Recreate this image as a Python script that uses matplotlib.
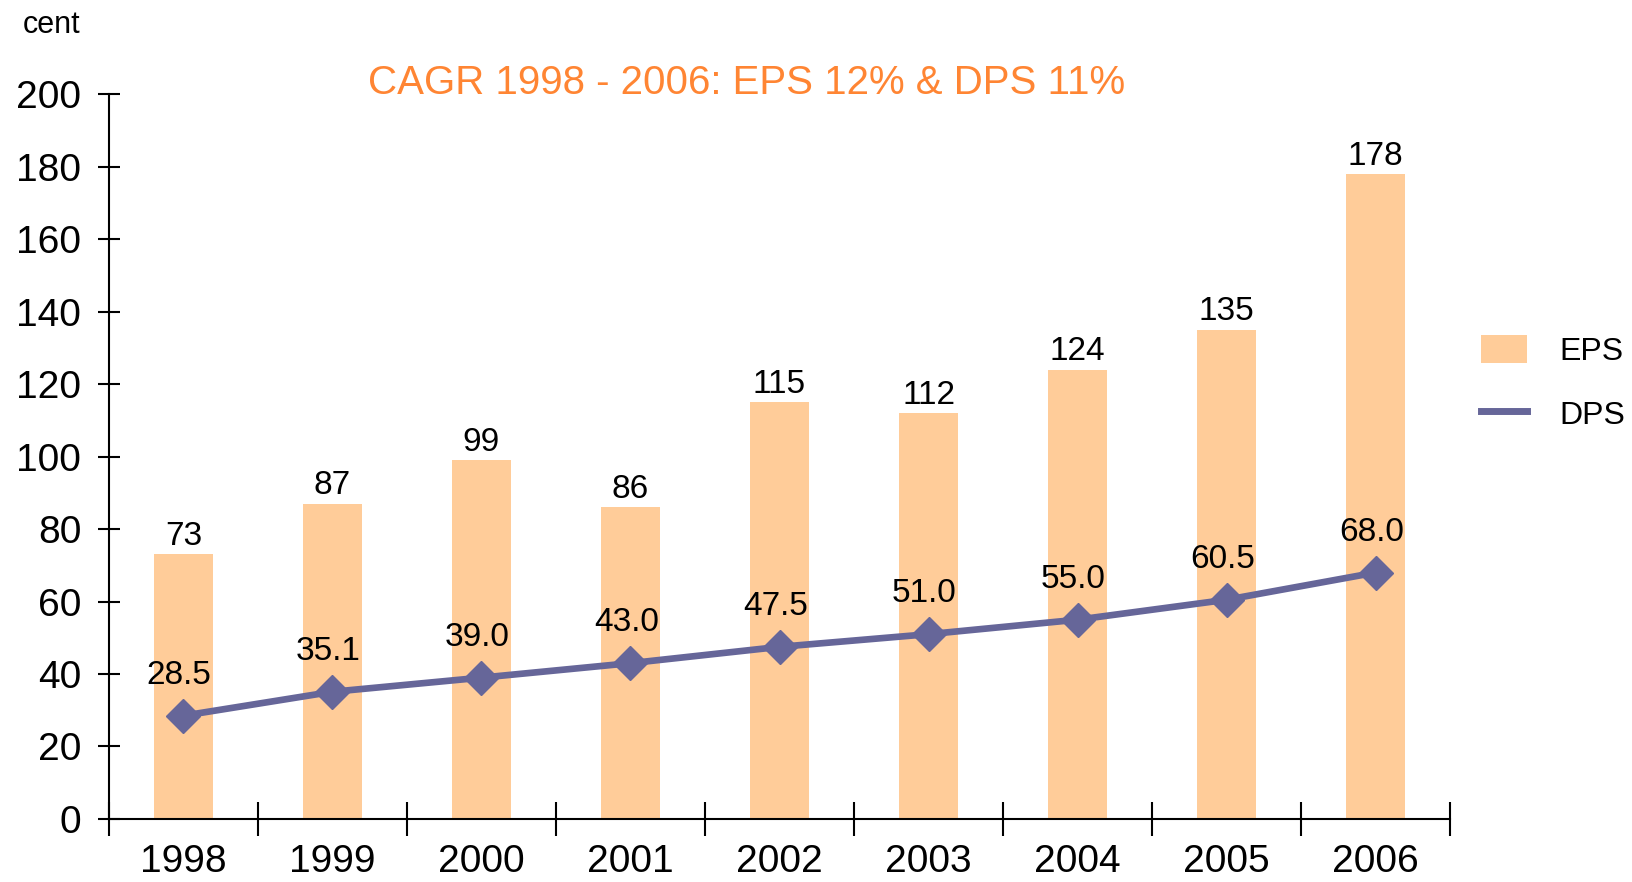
import matplotlib
matplotlib.use("Agg")
import matplotlib.pyplot as plt
from matplotlib.patches import Patch
from matplotlib.lines import Line2D

plt.rcParams["font.family"] = ["Liberation Sans", "DejaVu Sans"]

# Data
years = ["1998", "1999", "2000", "2001", "2002", "2003", "2004", "2005", "2006"]
eps = [73, 87, 99, 86, 115, 112, 124, 135, 178]
dps = [28.5, 35.1, 39.0, 43.0, 47.5, 51.0, 55.0, 60.5, 68.0]
eps_labels = ["73", "87", "99", "86", "115", "112", "124", "135", "178"]
dps_labels = ["28.5", "35.1", "39.0", "43.0", "47.5", "51.0", "55.0", "60.5", "68.0"]

bar_color = "#FFCC99"
line_color = "#666699"

fig = plt.figure(figsize=(16.33, 8.82), dpi=100)
ax = fig.add_axes([0.0667, 0.0715, 0.8213, 0.8215])

x = list(range(len(years)))
ax.bar(x, eps, width=0.4, color=bar_color, zorder=1)
ax.plot(x, dps, color=line_color, lw=4.8, marker="D", markersize=17, zorder=3)

# value labels
for i in x:
    ax.annotate(eps_labels[i], (i, eps[i]), xytext=(0, 13), textcoords="offset points",
                ha="center", va="center", fontsize=24)
    ax.annotate(dps_labels[i], (i, dps[i]), xytext=(-3, 29), textcoords="offset points",
                ha="center", va="center", fontsize=24)

ax.set_xlim(-0.5, len(years) - 0.5)
ax.set_ylim(0, 200)
ax.set_yticks(range(0, 201, 20))
ax.tick_params(axis="y", direction="inout", length=16, width=1.5, labelsize=28, pad=12)

# year ticks sit between categories, labels in the middle
ax.set_xticks([i - 0.5 for i in range(len(years) + 1)])
ax.set_xticklabels([])
ax.set_xticks(x, minor=True)
ax.set_xticklabels(years, minor=True, fontsize=28)
ax.tick_params(axis="x", which="major", direction="inout", length=24, width=1.5)
ax.tick_params(axis="x", which="minor", length=0, pad=18)

for side in ["top", "right"]:
    ax.spines[side].set_visible(False)
ax.spines["left"].set_linewidth(1.5)
ax.spines["bottom"].set_linewidth(1.5)

fig.text(0.014, 0.972, "cent", fontsize=22, va="center", ha="left")
fig.text(0.457, 0.906, "CAGR 1998 - 2006: EPS 12% & DPS 11%", fontsize=29,
         color="#FF8533", ha="center", va="center")

handles = [Patch(facecolor=bar_color, edgecolor="none"),
           Line2D([0], [0], color=line_color, lw=5)]
fig.legend(handles, ["EPS", "DPS"], loc="center left", bbox_to_anchor=(0.907, 0.566),
           frameon=False, fontsize=23, handlelength=1.45, handleheight=0.95,
           handletextpad=1.0, labelspacing=1.0, borderpad=0, borderaxespad=0)

fig.savefig("out.png", dpi=100)
